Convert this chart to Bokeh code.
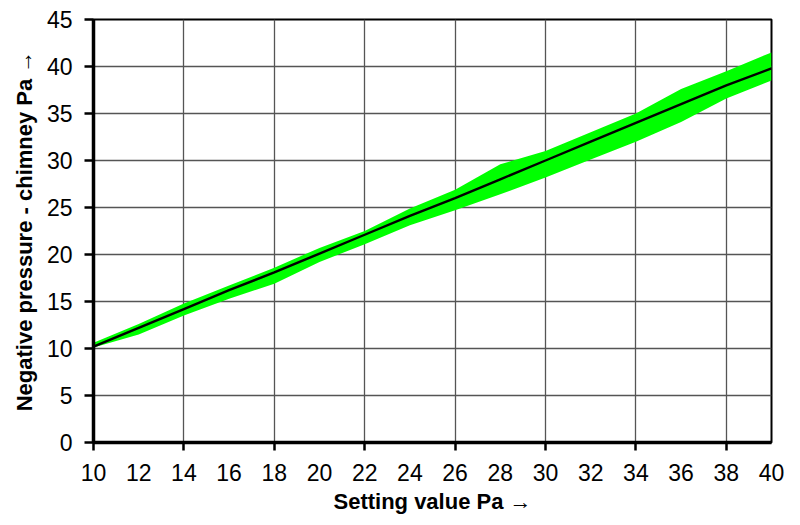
from bokeh.plotting import figure
from bokeh.models import FixedTicker, Range1d
from bokeh.embed import file_html
from bokeh.resources import INLINE

# Data
setting = [10, 12, 14, 16, 18, 20, 22, 24, 26, 28, 30, 32, 34, 36, 38, 40]
chimney = [10.2, 12.2, 14.2, 16.2, 18.1, 20.1, 22.1, 24.1, 26.0, 28.0, 30.0, 32.0, 34.0, 36.0, 38.0, 39.8]
band_upper = [10.6, 12.6, 14.8, 16.7, 18.6, 20.7, 22.5, 24.9, 26.9, 29.6, 31.0, 33.0, 35.0, 37.6, 39.5, 41.5]
band_lower = [10.1, 11.5, 13.5, 15.3, 16.9, 19.2, 21.1, 23.1, 24.7, 26.4, 28.2, 30.1, 32.0, 34.1, 36.6, 38.5]

x_labels = [10, 12, 14, 16, 18, 20, 22, 24, 26, 28, 30, 32, 34, 36, 38, 40]
x_marks = [10, 14, 18, 22, 26, 30, 34, 38]
x_grid = [14, 18, 22, 26, 30, 34, 38]
y_labels = [0, 5, 10, 15, 20, 25, 30, 35, 40, 45]
y_grid = [5, 10, 15, 20, 25, 30, 35, 40]

FONT = "Liberation Sans"

p = figure(width=790, height=516, output_backend="svg", toolbar_location=None,
           x_range=Range1d(10, 40), y_range=Range1d(0, 45),
           min_border_left=93, min_border_right=19, min_border_top=19, min_border_bottom=74)

p.background_fill_color = "white"
p.border_fill_color = "white"
p.outline_line_color = "black"
p.outline_line_width = 2

p.varea(x=setting, y1=band_lower, y2=band_upper, fill_color="#00ff00")
p.line(setting, chimney, line_color="black", line_width=2.4)

xa = p.xaxis[0]
xa.ticker = FixedTicker(ticks=x_labels, minor_ticks=x_marks)
xa.major_tick_line_color = None
xa.minor_tick_in = 0
xa.minor_tick_out = 8
xa.minor_tick_line_width = 2.5
xa.minor_tick_line_color = "black"
xa.axis_line_width = 3.5
xa.axis_line_color = "black"
xa.major_label_standoff = 13
xa.major_label_text_font = FONT
xa.major_label_text_font_size = "23px"
xa.major_label_text_color = "black"
xa.axis_label = "Setting value Pa \u2192"
xa.axis_label_text_font = FONT
xa.axis_label_text_font_size = "22px"
xa.axis_label_text_font_style = "bold"
xa.axis_label_text_color = "black"
xa.axis_label_standoff = 5

ya = p.yaxis[0]
ya.ticker = FixedTicker(ticks=y_labels)
ya.minor_tick_line_color = None
ya.major_tick_in = 0
ya.major_tick_out = 9
ya.major_tick_line_width = 2.5
ya.major_tick_line_color = "black"
ya.axis_line_width = 3.5
ya.axis_line_color = "black"
ya.major_label_standoff = 12
ya.major_label_text_font = FONT
ya.major_label_text_font_size = "23px"
ya.major_label_text_color = "black"
ya.axis_label = "Negative pressure - chimney Pa \u2192"
ya.axis_label_text_font = FONT
ya.axis_label_text_font_size = "22px"
ya.axis_label_text_font_style = "bold"
ya.axis_label_text_color = "black"
ya.axis_label_standoff = 7

p.xgrid.ticker = FixedTicker(ticks=x_grid)
p.ygrid.ticker = FixedTicker(ticks=y_grid)
p.xgrid.grid_line_color = "#555555"
p.ygrid.grid_line_color = "#555555"
p.xgrid.grid_line_width = 1.3
p.ygrid.grid_line_width = 1.3
p.xgrid.level = "underlay"
p.ygrid.level = "underlay"

open("out.html", "w").write(file_html(p, INLINE))
